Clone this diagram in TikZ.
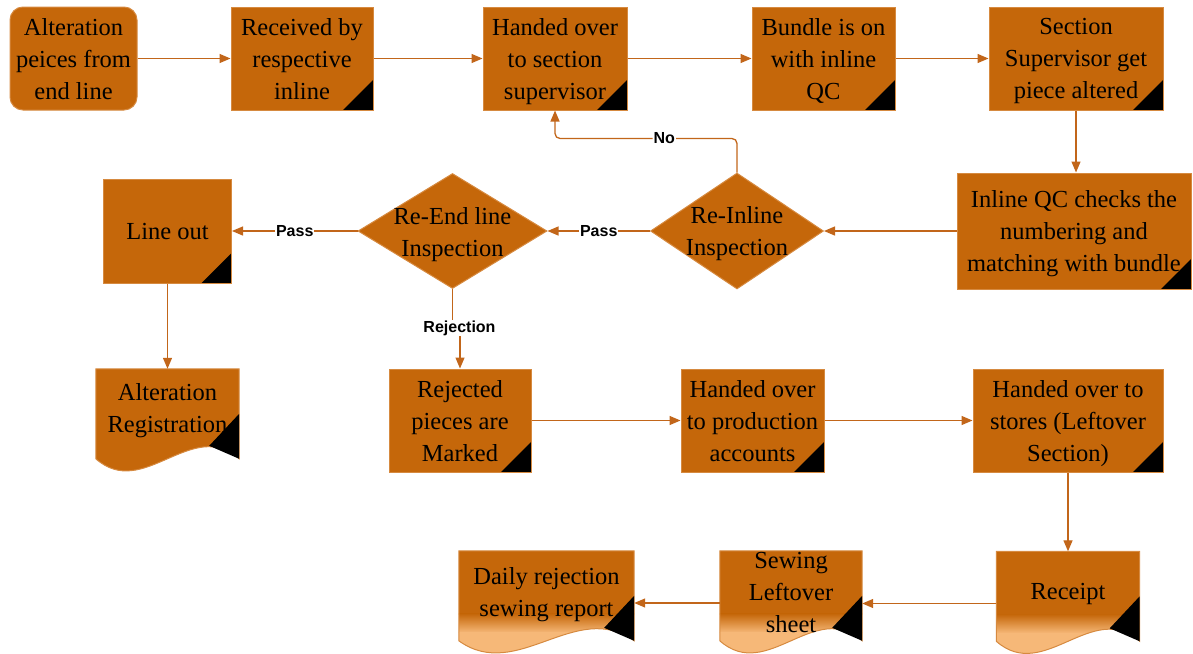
\documentclass[tikz,border=0pt]{standalone}
\usepackage{fontspec}
\setmainfont{Liberation Serif}
\newfontfamily\labfont{Liberation Sans}
\usetikzlibrary{arrows.meta,shapes.geometric,calc}
\definecolor{boxfill}{HTML}{C5670A}
\definecolor{boxline}{HTML}{D68A40}
\definecolor{arrc}{HTML}{C2661A}
\definecolor{peach}{HTML}{F6B878}
\newcommand\docoutline[2]{(#1.north west) -- (#1.north east) -- ($(#1.north east)+(0,90)$)
    .. controls +(-#2/3,-42) and +(#2/3,42) .. ($(#1.north west)+(0,90)$) -- cycle}
\newcommand\doccorner[1]{%
  \fill[black] ($(#1.north east)+(0,45)$) -- ($(#1.north east)+(0,90)$) -- ($(#1.north east)+(-30,77)$) -- cycle;}
\newcommand\docplain[2]{%
  \path[fill=boxfill] \docoutline{#1}{#2};
  \path[draw=boxline, line width=1pt] \docoutline{#1}{#2};
  \doccorner{#1}}
\newcommand\docgrad[2]{%
  \begin{scope}
    \path[clip] \docoutline{#1}{#2};
    \fill[boxfill] ($(#1.north west)+(-2,-2)$) rectangle ($(#1.north east)+(2,64)$);
    \shade[top color=boxfill, bottom color=peach] ($(#1.north west)+(-2,63)$) rectangle ($(#1.north east)+(2,82)$);
    \fill[peach] ($(#1.north west)+(-2,81.5)$) rectangle ($(#1.north east)+(2,110)$);
  \end{scope}
  \path[draw=boxline, line width=1pt] \docoutline{#1}{#2};
  \doccorner{#1}}
\begin{document}
\begin{tikzpicture}[x=1pt,y=-1pt,
  plain/.style={draw=boxline, fill=boxfill, line width=1pt, inner sep=0pt, align=center,
    text depth=0pt, font=\fontsize{24.5}{32}\selectfont},
  box/.style={plain, path picture={\fill[black] (path picture bounding box.south east) -- ++(-30pt,0pt) -- ++(30pt,30pt) -- cycle;}},
  rbox/.style={plain, rounded corners=13pt},
  dia/.style={diamond, draw=boxline, fill=boxfill, line width=1pt, inner sep=0pt},
  btext/.style={align=center, inner sep=0pt, text depth=0pt, font=\fontsize{24.5}{32}\selectfont},
  docbox/.style={inner sep=0pt, minimum height=104pt},
  arr/.style={draw=arrc, line width=1.3pt, -{Triangle[length=11pt,width=9pt]}},
  lbl/.style={font=\labfont\bfseries\fontsize{16}{19}\selectfont, fill=white, inner sep=1pt}
]
\useasboundingbox (0,0) rectangle (1193,653);

% top row
\node[rbox, minimum width=127pt, minimum height=103pt] (alt) at (73.5,58.5) {Alteration\\peices from\\end line};
\node[box, minimum width=142pt, minimum height=103pt] (recv) at (302,58.5) {Received by\\respective\\inline};
\node[box, minimum width=144pt, minimum height=103pt] (hsup) at (555,58.5) {Handed over\\to section\\supervisor};
\node[box, minimum width=143pt, minimum height=103pt] (bund) at (823.5,58.5) {Bundle is on\\with inline\\QC};
\node[box, minimum width=174pt, minimum height=103pt] (ssup) at (1076,58.5) {Section\\Supervisor get\\piece altered};

% middle row
\node[box, minimum width=234pt, minimum height=116pt] (iqc) at (1074,231) {Inline QC checks the\\numbering and\\matching with bundle};
\node[dia, minimum width=173pt, minimum height=116pt] (reinl) at (737,231) {};
\node[btext] (reinlt) at (737,231) {Re-Inline\\Inspection};
\node[dia, minimum width=189pt, minimum height=115pt] (reend) at (452.5,231) {};
\node[btext] (reendt) at (452.5,232) {Re-End line\\Inspection};
\node[box, minimum width=128pt, minimum height=104pt] (lout) at (167.5,231) {Line out};

% document
\node[docbox, minimum width=143pt] (areg) at (167.5,421) {};
\docplain{areg}{143}
\node[btext] (aregt) at (167.5,408) {Alteration\\Registration};

% fourth row
\node[box, minimum width=142pt, minimum height=103pt] (rej) at (460,420.5) {Rejected\\pieces are\\Marked};
\node[box, minimum width=143pt, minimum height=103pt] (hpa) at (752.5,420.5) {Handed over\\to production\\accounts};
\node[box, minimum width=190pt, minimum height=103pt] (hst) at (1068,420.5) {Handed over to\\stores (Leftover\\Section)};

% bottom row documents
\node[docbox, minimum width=175pt] (daily) at (546.5,603) {};
\docgrad{daily}{175}
\node[btext] (dailyt) at (546.5,592) {Daily rejection\\sewing report};
\node[docbox, minimum width=142pt] (sew) at (791,603) {};
\docgrad{sew}{142}
\node[btext] (sewt) at (791,592) {Sewing\\Leftover\\sheet};
\node[docbox, minimum width=143pt] (rcpt) at (1068,603.5) {};
\docgrad{rcpt}{143}
\node[btext] (rcptt) at (1068,591) {Receipt};

% connectors
\draw[arr] (alt) -- (recv);
\draw[arr] (recv) -- (hsup);
\draw[arr] (hsup) -- (bund);
\draw[arr] (bund) -- (ssup);
\draw[arr] (ssup.south) -- (ssup.south |- iqc.north);
\draw[arr] (iqc.west) -- (reinl.east);
\draw[arr] (reinl.west) -- node[lbl] (pass1) {Pass} (reend.east);
\draw[arr] (reend.west) -- node[lbl] (pass2) {Pass} (lout.east);
\draw[arr, rounded corners=5pt] (reinl.north) -- ++(0,-34) -| node[lbl, pos=0.2] (no) {No} (hsup.south);
\draw[arr] (reend.south) -- ++(0,39) node[lbl, xshift=7pt] (rejl) {Rejection} -| (rej.north);
\draw[arr] (lout.south) -- (areg.north);
\draw[arr] (rej) -- (hpa);
\draw[arr] (hpa) -- (hst);
\draw[arr] (hst.south) -- (rcpt.north);
\draw[arr] (rcpt.west) -- (rcpt.west -| sew.east);
\draw[arr] (sew.west) -- (sew.west -| daily.east);
\end{tikzpicture}
\end{document}
